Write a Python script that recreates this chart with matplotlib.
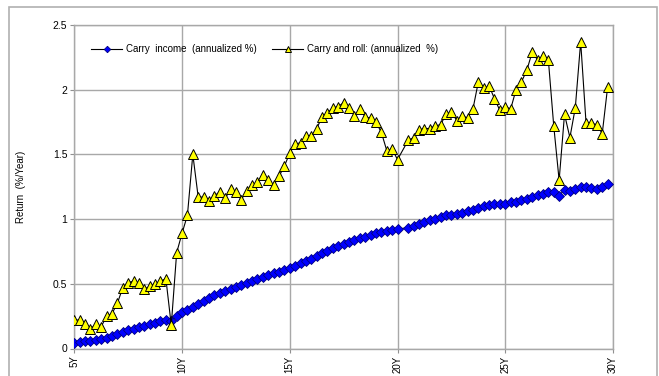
import matplotlib
matplotlib.use("Agg")
import matplotlib.pyplot as plt
from matplotlib.patches import Rectangle

# quarterly maturity grid, 20.25Y missing in the source data
maturity = [5 + 0.25 * i for i in range(100) if i != 61]

carry_income = [
    0.04, 0.05, 0.055, 0.06, 0.065, 0.07, 0.08, 0.095, 0.11, 0.125,
    0.14, 0.15, 0.165, 0.175, 0.19, 0.20, 0.21, 0.22, 0.215, 0.25,
    0.28, 0.30, 0.32, 0.345, 0.37, 0.39, 0.41, 0.43, 0.445, 0.46,
    0.475, 0.49, 0.51, 0.525, 0.54, 0.55, 0.565, 0.58, 0.59, 0.61,
    0.625, 0.64, 0.66, 0.68, 0.695, 0.715, 0.735, 0.755, 0.775, 0.79,
    0.81, 0.825, 0.84, 0.853, 0.865, 0.878, 0.89, 0.90, 0.91, 0.917,
    0.922,
    0.935, 0.95, 0.964, 0.977, 0.99, 1.0, 1.015, 1.028,
    1.033, 1.04, 1.046, 1.059, 1.067, 1.085, 1.098, 1.11, 1.116, 1.116,
    1.116, 1.129, 1.136, 1.149, 1.157, 1.167, 1.183, 1.196, 1.209, 1.209,
    1.18, 1.227, 1.219, 1.235, 1.245, 1.245, 1.24, 1.235, 1.248, 1.271,
]

carry_roll = [
    0.22, 0.22, 0.19, 0.15, 0.19, 0.17, 0.25, 0.27, 0.35, 0.47,
    0.51, 0.52, 0.51, 0.46, 0.48, 0.50, 0.52, 0.54, 0.18, 0.74,
    0.89, 1.03, 1.50, 1.17, 1.17, 1.14, 1.18, 1.21, 1.16, 1.23,
    1.21, 1.15, 1.22, 1.26, 1.29, 1.34, 1.30, 1.26, 1.33, 1.41,
    1.51, 1.58, 1.59, 1.64, 1.64, 1.70, 1.79, 1.82, 1.86, 1.87,
    1.90, 1.86, 1.80, 1.85, 1.79, 1.78, 1.75, 1.67, 1.53, 1.54,
    1.46,
    1.61, 1.63, 1.69, 1.70, 1.70, 1.72, 1.73, 1.81,
    1.83, 1.76, 1.80, 1.78, 1.85, 2.06, 2.01, 2.03, 1.93, 1.84,
    1.87, 1.85, 2.00, 2.06, 2.15, 2.29, 2.23, 2.26, 2.23, 1.72,
    1.30, 1.81, 1.63, 1.86, 2.37, 1.74, 1.74, 1.73, 1.66, 2.02,
]

tick_years = [5, 10, 15, 20, 25, 30]
tick_labels = ["5Y", "10Y", "15Y", "20Y", "25Y", "30Y"]
y_ticks = [0, 0.5, 1, 1.5, 2, 2.5]
y_labels = ["0", "0.5", "1", "1.5", "2", "2.5"]

font = ["Liberation Sans Narrow", "Liberation Sans", "DejaVu Sans"]
plt.rcParams["font.family"] = font

fig = plt.figure(figsize=(6.59, 3.76), dpi=100)
fig.patches.append(Rectangle((9 / 659, -0.02), 648 / 659, 1 - 7 / 376 + 0.02,
                             transform=fig.transFigure, fill=False,
                             edgecolor="#b0b0b0", linewidth=1.2))

ax = fig.add_axes([74.3 / 659, 27.5 / 376, 538.7 / 659, 323.5 / 376])

ax.plot(maturity, carry_income, color="black", lw=0.8, marker="D",
        markersize=5.5, markerfacecolor="#0000ff", markeredgecolor="#000080",
        markeredgewidth=0.6, label="Carry  income  (annualized %)", zorder=3)
ax.plot(maturity, carry_roll, color="black", lw=0.8, marker="^",
        markersize=7.5, markerfacecolor="#ffff00", markeredgecolor="black",
        markeredgewidth=0.7, label="Carry and roll: (annualized  %)", zorder=4)

ax.set_xlim(5, 30)
ax.set_ylim(0, 2.5)
ax.set_xticks(tick_years)
ax.set_xticklabels(tick_labels, rotation=90, fontsize=7)
ax.set_yticks(y_ticks)
ax.set_yticklabels(y_labels, fontsize=7.5)
ax.tick_params(axis="both", length=3, width=0.8, color="#909090", pad=2)
ax.grid(True, color="#a8a8a8", linewidth=1.0)
ax.set_axisbelow(True)
for s in ax.spines.values():
    s.set_color("#a8a8a8")
    s.set_linewidth(1.0)

ax.set_ylabel("Return  (%/Year)", fontsize=7, labelpad=19)

leg = ax.legend(loc="center left", bbox_to_anchor=(0.031, 0.926), ncol=2,
                frameon=False, fontsize=7, handlelength=3.2,
                handletextpad=0.4, columnspacing=1.6, borderpad=0,
                borderaxespad=0, markerscale=0.6)

fig.savefig("out.png", dpi=100)
